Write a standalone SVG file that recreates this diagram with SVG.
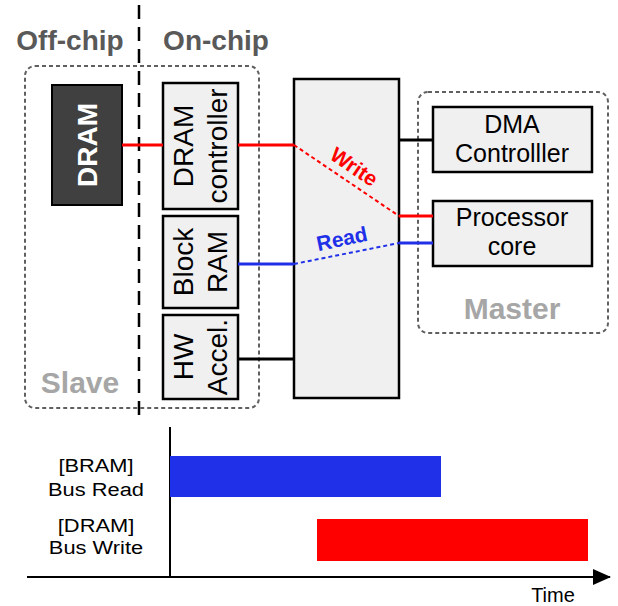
<svg xmlns="http://www.w3.org/2000/svg" width="618" height="606" viewBox="0 0 618 606">
<style>
.box{fill:#f0f0f0;stroke:#000;stroke-width:2.5}
.grp{fill:none;stroke:#606060;stroke-width:2;stroke-dasharray:4 3}
.t{font-family:"Liberation Sans",Arial,sans-serif;fill:#000}
.b{font-weight:bold}
.c{text-anchor:middle}
.red{stroke:#ff0000;stroke-width:3;fill:none}
.blue{stroke:#2030e8;stroke-width:3;fill:none}
.blk{stroke:#000;stroke-width:3;fill:none}
.dot{stroke-width:2;stroke-dasharray:4 3}
</style>
<defs>
<marker id="arr" markerWidth="18" markerHeight="16" refX="17" refY="8" orient="auto" markerUnits="userSpaceOnUse">
<path d="M0,0 L18,8 L0,16 Z" fill="#000"/>
</marker>
</defs>
<rect width="618" height="606" fill="#fff"/>
<g id="titles">
<text class="t b c" x="70" y="50" font-size="28" style="fill:#595959">Off-chip</text>
<text class="t b c" x="216" y="50" font-size="28" style="fill:#595959">On-chip</text>
</g>
<line x1="139" y1="5" x2="139" y2="420" stroke="#000" stroke-width="2.5" stroke-dasharray="14 8"/>
<g id="slave">
<rect class="grp" x="25" y="66" width="234" height="342" rx="10"/>
<text class="t b c" x="80" y="393" font-size="30" style="fill:#a6a6a6">Slave</text>
</g>
<g id="master">
<rect class="grp" x="418" y="92" width="190" height="241" rx="10"/>
<text class="t b c" x="512" y="319" font-size="30" style="fill:#a6a6a6">Master</text>
</g>
<g id="dram">
<rect x="52" y="85" width="70" height="120" fill="#404040" stroke="#000" stroke-width="2"/>
<text class="t b c" transform="translate(97,145) rotate(-90)" font-size="28" style="fill:#fff">DRAM</text>
</g>
<g id="dram-controller">
<rect class="box" x="163" y="83" width="75" height="126"/>
<text class="t c" transform="translate(193,146) rotate(-90)" font-size="28">DRAM</text>
<text class="t c" transform="translate(227,146) rotate(-90)" font-size="28">controller</text>
</g>
<g id="block-ram">
<rect class="box" x="163" y="216" width="75" height="92"/>
<text class="t c" transform="translate(193,262) rotate(-90)" font-size="28">Block</text>
<text class="t c" transform="translate(227,262) rotate(-90)" font-size="28">RAM</text>
</g>
<g id="hw-accel">
<rect class="box" x="163" y="315" width="75" height="84"/>
<text class="t c" transform="translate(193,357) rotate(-90)" font-size="28">HW</text>
<text class="t c" transform="translate(227,357) rotate(-90)" font-size="28">Accel.</text>
</g>
<g id="bus">
<rect class="box" x="294" y="79" width="105" height="319"/>
</g>
<g id="dma">
<rect class="box" x="433" y="107" width="159" height="65"/>
<text class="t c" x="512" y="133" font-size="25">DMA</text>
<text class="t c" x="512" y="162" font-size="25">Controlller</text>
</g>
<g id="processor">
<rect class="box" x="433" y="201" width="159" height="65"/>
<text class="t c" x="512" y="226" font-size="25">Processor</text>
<text class="t c" x="512" y="255" font-size="25">core</text>
</g>
<g id="connectors">
<line class="red" x1="122" y1="145" x2="163" y2="145"/>
<line class="red" x1="238" y1="145" x2="294" y2="145"/>
<line class="red dot" x1="294" y1="145" x2="399" y2="216"/>
<line class="red" x1="399" y1="216" x2="433" y2="216"/>
<line class="blue" x1="238" y1="264" x2="294" y2="264"/>
<line class="blue dot" x1="294" y1="264" x2="399" y2="243"/>
<line class="blue" x1="399" y1="243" x2="433" y2="243"/>
<line class="blk" x1="238" y1="359" x2="294" y2="359"/>
<line class="blk" x1="399" y1="140" x2="433" y2="140"/>
<text class="t b c" transform="translate(354,167) rotate(34)" y="7" font-size="21" style="fill:#ff0000">Write</text>
<text class="t b c" transform="translate(342,239) rotate(-12)" y="7" font-size="21" style="fill:#2030e8">Read</text>
</g>
<g id="timeline">
<line x1="170" y1="427" x2="170" y2="578" stroke="#000" stroke-width="2"/>
<line x1="27" y1="577" x2="610" y2="577" stroke="#000" stroke-width="2" marker-end="url(#arr)"/>
<rect x="170" y="456" width="271" height="41" fill="#2030e8"/>
<rect x="317" y="519" width="271" height="42" fill="#ff0000"/>
<text class="t c" transform="translate(96,0) scale(1.15,1)" y="472" font-size="19">[BRAM]</text>
<text class="t c" transform="translate(96,0) scale(1.15,1)" y="496" font-size="19">Bus Read</text>
<text class="t c" transform="translate(96,0) scale(1.15,1)" y="532" font-size="19">[DRAM]</text>
<text class="t c" transform="translate(96,0) scale(1.15,1)" y="554" font-size="19">Bus Write</text>
<text class="t c" x="553" y="602" font-size="20">Time</text>
</g>
</svg>
